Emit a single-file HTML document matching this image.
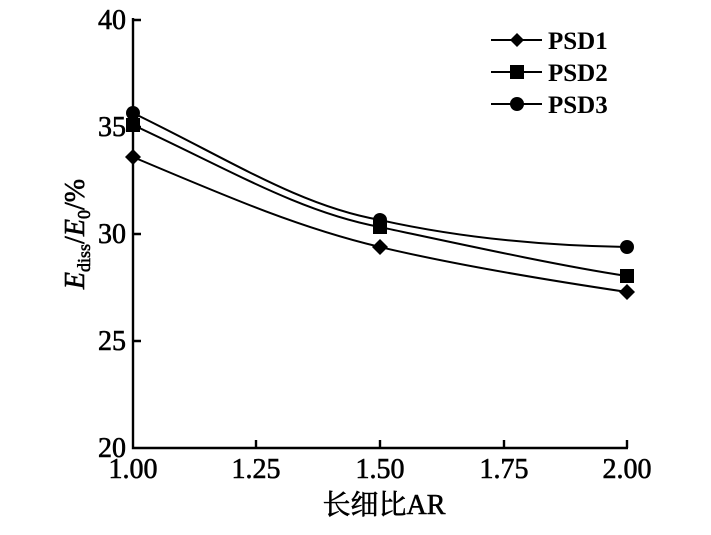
<!DOCTYPE html>
<html><head><meta charset="utf-8"><style>body{margin:0;background:#fff}</style></head><body>
<svg width="711" height="530" viewBox="0 0 711 530" xmlns="http://www.w3.org/2000/svg" font-family="Liberation Serif, Noto Serif CJK SC, serif">
<rect width="711" height="530" fill="#fff"/>
<g stroke="#000" stroke-width="2.4" fill="none">
<path d="M133 18 V448 H628"/>
<path d="M133 20 H141 M133 127 H141 M133 234 H141 M133 341 H141"/>
<path d="M256 448 V440 M380 448 V440 M504 448 V440 M627 448 V440"/>
</g>
<g stroke="#000" stroke-width="2" fill="none">
<path d="M133 157 C 230 198, 300 228, 380 247 C 460 266, 560 282, 627 292"/>
<path d="M133 125 C 230 170, 300 212, 380 227 C 460 244, 560 266, 627 276"/>
<path d="M133 113 C 230 160, 300 206, 380 220 C 470 240, 560 246, 627 247"/>
</g>
<g fill="#000">
<path d="M133 149 L141 157 L133 165 L125 157Z"/>
<path d="M380 239 L388 247 L380 255 L372 247Z"/>
<path d="M627 284 L635 292 L627 300 L619 292Z"/>
<rect x="126" y="118" width="14" height="14"/>
<rect x="373" y="220" width="14" height="14"/>
<rect x="620" y="269" width="14" height="14"/>
<circle cx="133" cy="113" r="7"/>
<circle cx="380" cy="220" r="7"/>
<circle cx="627" cy="247" r="7"/>
</g>
<g stroke="#000" stroke-width="2"><path d="M491 40 H542 M491 72 H542 M491 104 H542"/></g>
<g fill="#000">
<path d="M517 33 L524 40 L517 47 L510 40Z"/>
<rect x="510" y="65" width="14" height="14"/>
<circle cx="517" cy="104" r="7"/>
</g>
<g font-size="25" font-weight="bold" fill="#000">
<text x="548" y="49">PSD1</text>
<text x="548" y="81">PSD2</text>
<text x="548" y="113">PSD3</text>
</g>
<g font-size="28" fill="#000" stroke="#000" stroke-width="0.6" text-anchor="end">
<text x="126" y="29">40</text>
<text x="126" y="136">35</text>
<text x="126" y="243">30</text>
<text x="126" y="350">25</text>
<text x="126" y="457">20</text>
</g>
<g font-size="28" fill="#000" stroke="#000" stroke-width="0.6" text-anchor="middle">
<text x="133" y="478">1.00</text>
<text x="256" y="478">1.25</text>
<text x="380" y="478">1.50</text>
<text x="504" y="478">1.75</text>
<text x="627" y="478">2.00</text>
<text x="384" y="514">长细比AR</text>
</g>
<text transform="translate(84 234) rotate(-90)" text-anchor="middle" font-size="28" fill="#000" stroke="#000" stroke-width="0.6"><tspan font-style="italic">E</tspan><tspan font-size="18" dy="6">diss</tspan><tspan dy="-6">/</tspan><tspan font-style="italic">E</tspan><tspan font-size="18" dy="6">0</tspan><tspan dy="-6">/%</tspan></text>
</svg>
</body></html>
